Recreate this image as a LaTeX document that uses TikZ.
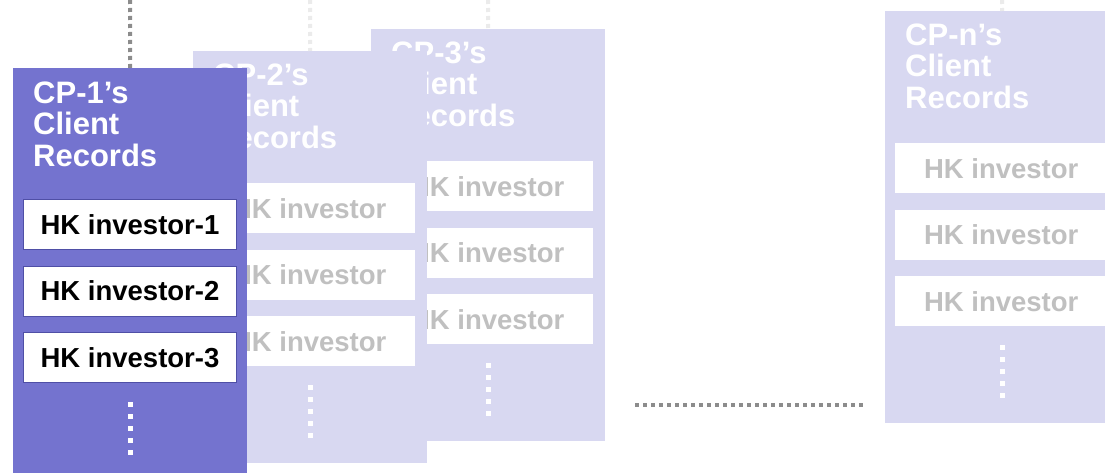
\documentclass[tikz,border=0pt]{standalone}
\usepackage{fontspec}
\setmainfont{Liberation Sans}
\usetikzlibrary{calc}

\definecolor{cpdark}{HTML}{7473CF}
\definecolor{cplight}{HTML}{D8D8F1}
\definecolor{cpline}{HTML}{4F4FA6}
\definecolor{fadetext}{HTML}{C0C0C0}
\definecolor{dotgray}{HTML}{8C8C8C}
\definecolor{dotlight}{HTML}{EBEBEB}

\tikzset{
  panel/.style={rectangle, anchor=north west, inner sep=0pt,
    minimum width=234pt, minimum height=412pt},
  paneltitle/.style={anchor=base west, inner sep=0pt, align=left, text=white,
    font=\fontsize{31}{31.7}\selectfont\bfseries},
  investor/.style={rectangle, anchor=north west, inner sep=0pt, fill=white,
    minimum width=212pt, minimum height=50pt,
    font=\fontsize{27.5}{30}\selectfont\bfseries},
  whitedots/.style={white, line width=5pt, dash pattern=on 5pt off 7pt},
  linkdots/.style={line width=4pt, dash pattern=on 4pt off 4pt},
}

\begin{document}
\begin{tikzpicture}[x=1pt, y=-1pt]

  % ===== Frame =====
  \useasboundingbox (0,0) rectangle (1105,473);
  \clip (0,0) rectangle (1105,473);

  % ===== Faded panels, drawn back to front =====
  % (title is anchored at the baseline of its last line)
  \foreach \id/\px/\py in {n/885/11, 3/371/29, 2/193/51}{
    \node[panel, fill=cplight] (p\id) at (\px,\py) {};
    \coordinate (t\id) at (\px+117,0);
    \draw[linkdots, dotlight] (t\id) -- (p\id.north);
    \node[paneltitle] (h\id) at ($(p\id.north west)+(20,97.5)$) {CP-\id’s\\Client\\Records};
    \foreach \k in {1,2,3}{
      \node[investor, text=fadetext] (b\id\k) at ($(p\id.north west)+(10,65.5+66.5*\k)$) {HK investor};
    }
    \draw[whitedots] ($(p\id.north)+(0,334)$) -- ($(p\id.north)+(0,387)$);
  }

  % ===== CP-1 panel (front) =====
  \node[panel, fill=cpdark] (p1) at (13,68) {};
  \coordinate (t1) at (130,0);
  \draw[linkdots, dotgray] (t1) -- (p1.north);
  \node[paneltitle] (h1) at ($(p1.north west)+(20,98.7)$) {CP-1’s\\Client\\Records};
  \foreach \k in {1,2,3}{
    \node[investor, draw=cpline, line width=1pt, minimum width=213pt] (b1\k)
      at ($(p1.north west)+(10,64.5+66.5*\k)$) {HK investor-\k};
  }
  \draw[whitedots] ($(p1.north)+(0,334)$) -- ($(p1.north)+(0,387)$);

  % ===== Gap between CP-3 and CP-n =====
  \coordinate (gapL) at (635,405);
  \coordinate (gapR) at (863,405);
  \draw[linkdots, dotgray] (gapL) -- (gapR);

\end{tikzpicture}
\end{document}
